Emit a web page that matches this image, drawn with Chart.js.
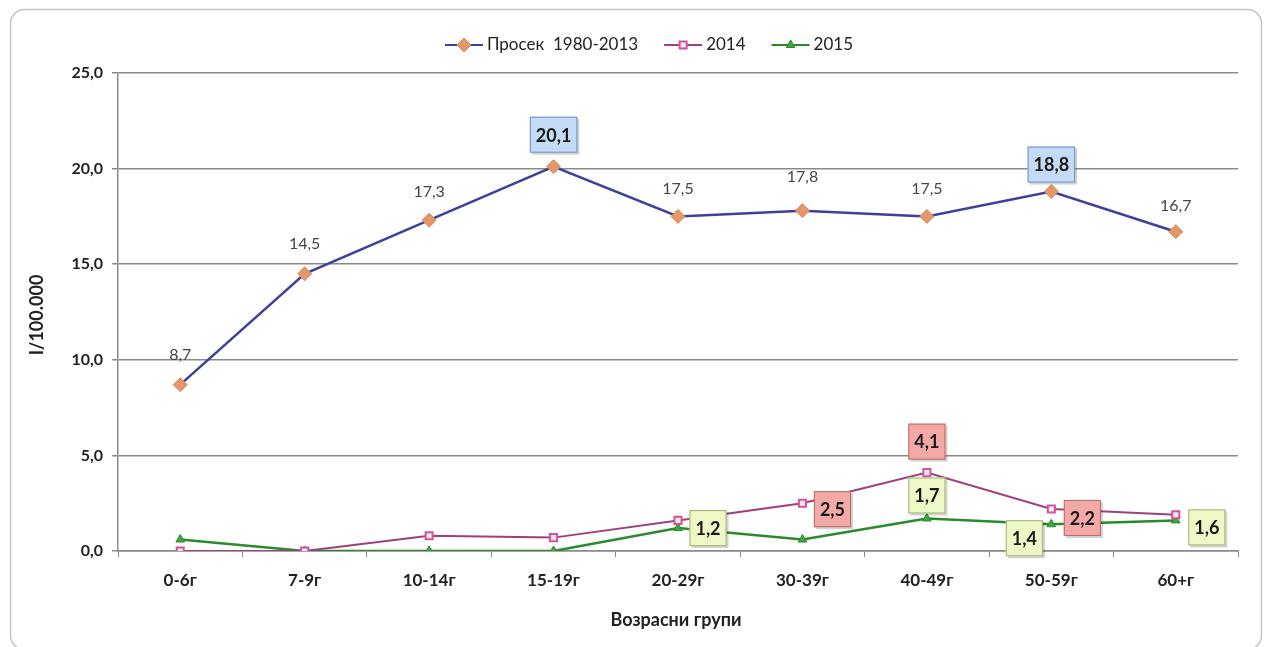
<!DOCTYPE html>
<html>
<head>
<meta charset="utf-8">
<script src="https://cdn.jsdelivr.net/npm/chart.js@4.4.1/dist/chart.umd.min.js"></script>
<style>
  body { margin: 0; background: #fff; }
  #wrap { position: relative; width: 1268px; height: 647px; }
</style>
</head>
<body>
<div id="wrap"><canvas id="chart" width="1268" height="647"></canvas></div>
<script>
const ageGroups = ["0-6г", "7-9г", "10-14г", "15-19г", "20-29г", "30-39г", "40-49г", "50-59г", "60+г"];
const avg19802013 = [8.7, 14.5, 17.3, 20.1, 17.5, 17.8, 17.5, 18.8, 16.7];
const year2014 = [0, 0, 0.8, 0.7, 1.6, 2.5, 4.1, 2.2, 1.9];
const year2015 = [0.6, 0, 0, 0, 1.2, 0.6, 1.7, 1.4, 1.6];
const seriesNames = ["Просек  1980-2013", "2014", "2015"];

const FONT = "Lato, 'Open Sans', sans-serif";
const fmt = (v) => v.toFixed(1).replace(".", ",");

// which point gets a label, and how: [dataset, index, style, dx, dy]
const labelSpots = [
  [0, 0, "plain", 0, -30], [0, 1, "plain", 0, -30], [0, 2, "plain", 0, -28],
  [0, 3, "blue", 0, -32], [0, 4, "plain", 0, -28], [0, 5, "plain", 0, -34],
  [0, 6, "plain", 0, -28], [0, 7, "blue", 0, -27], [0, 8, "plain", 0, -26],
  [1, 5, "pink", 30, 6], [1, 6, "pink", 0, -31], [1, 7, "pink", 31, 9],
  [2, 4, "green", 30, 0], [2, 6, "green", 0, -23], [2, 7, "green", -27, 14], [2, 8, "green", 31, 7],
];

const boxStyles = {
  blue: { fill: "#c4dbf6", stroke: "#6f8fc4" },
  pink: { fill: "#f3aaa6", stroke: "#b86a6a" },
  green: { fill: "#eef7c6", stroke: "#9db274" },
};

const decor = {
  id: "decor",
  beforeDraw(chart) {
    const c = chart.ctx;
    c.save();
    c.strokeStyle = "#c4c4c4";
    c.lineWidth = 1.5;
    c.beginPath();
    c.roundRect(10.5, 9.5, 1251, 640, 14);
    c.stroke();
    c.restore();
  },
  afterDraw(chart) {
    const c = chart.ctx;
    const area = chart.chartArea;
    c.save();
    // axis titles
    c.fillStyle = "#222";
    c.font = "bold 18px " + FONT;
    c.textAlign = "center";
    c.textBaseline = "middle";
    c.fillText("Возрасни групи", (area.left + area.right) / 2 - 2, 620);
    c.translate(37, 315);
    c.rotate(-Math.PI / 2);
    c.fillText("I/100.000", 0, 0);
    c.restore();

    // legend, centred above the plot
    c.save();
    c.font = "17px " + FONT;
    c.textBaseline = "middle";
    const y = 45;
    const gap = 26, seg = 38, pad = 4;
    let total = 0;
    seriesNames.forEach((n) => (total += seg + pad + c.measureText(n).width));
    total += gap * (seriesNames.length - 1);
    let x = 649 - total / 2;
    chart.data.datasets.forEach((ds, i) => {
      c.strokeStyle = ds.borderColor;
      c.lineWidth = 2;
      c.beginPath();
      c.moveTo(x, y);
      c.lineTo(x + seg, y);
      c.stroke();
      drawMarker(c, ds, x + seg / 2, y);
      c.fillStyle = "#222";
      c.fillText(seriesNames[i], x + seg + pad, y);
      x += seg + pad + c.measureText(seriesNames[i]).width + gap;
    });
    c.restore();
  },
  afterDatasetsDraw(chart) {
    const c = chart.ctx;
    c.save();
    c.textAlign = "center";
    c.textBaseline = "middle";
    labelSpots.forEach(([d, i, style, dx, dy]) => {
      const pt = chart.getDatasetMeta(d).data[i];
      const v = chart.data.datasets[d].data[i];
      const cx = pt.x + dx, cy = pt.y + dy;
      const txt = fmt(v);
      if (style === "plain") {
        c.font = "16px " + FONT;
        c.fillStyle = "#444";
        c.fillText(txt, cx, cy);
        return;
      }
      c.font = "bold 18px " + FONT;
      const w = c.measureText(txt).width + 12;
      const h = 36;
      const b = boxStyles[style];
      c.fillStyle = "rgba(0,0,0,0.18)";
      c.fillRect(cx - w / 2 + 2, cy - h / 2 + 2, w, h);
      c.fillStyle = b.fill;
      c.fillRect(cx - w / 2, cy - h / 2, w, h);
      c.strokeStyle = b.stroke;
      c.lineWidth = 1;
      c.strokeRect(cx - w / 2 + 0.5, cy - h / 2 + 0.5, w - 1, h - 1);
      c.fillStyle = "#1a1a1a";
      c.fillText(txt, cx, cy + 1);
    });
    c.restore();
  },
};

function drawMarker(c, ds, x, y) {
  c.save();
  c.fillStyle = ds.pointBackgroundColor;
  c.strokeStyle = ds.pointBorderColor;
  c.lineWidth = ds.pointBorderWidth;
  Chart.helpers.drawPoint(c, { pointStyle: ds.pointStyle, radius: ds.pointRadius, borderWidth: ds.pointBorderWidth }, x, y);
  c.restore();
}

const ctx = document.getElementById("chart").getContext("2d");

new Chart(ctx, {
  type: "line",
  data: {
    labels: ageGroups,
    datasets: [
      {
        label: seriesNames[0],
        data: avg19802013,
        borderColor: "#3f3f9c",
        borderWidth: 2.5,
        pointStyle: "rectRot",
        pointRadius: 7,
        pointBackgroundColor: "#e3976b",
        pointBorderColor: "#d5885c",
        pointBorderWidth: 1,
        tension: 0,
      },
      {
        label: seriesNames[1],
        data: year2014,
        borderColor: "#a03f7c",
        borderWidth: 2,
        pointStyle: "rect",
        pointRadius: 5,
        pointBackgroundColor: "#f6e6ee",
        pointBorderColor: "#d0559a",
        pointBorderWidth: 2,
        tension: 0,
      },
      {
        label: seriesNames[2],
        data: year2015,
        borderColor: "#2b8a2b",
        borderWidth: 2.5,
        pointStyle: "triangle",
        pointRadius: 5,
        pointBackgroundColor: "#3ea83e",
        pointBorderColor: "#2b8a2b",
        pointBorderWidth: 1,
        tension: 0,
      },
    ],
  },
  options: {
    responsive: false,
    animation: false,
    devicePixelRatio: 1,
    layout: { padding: { top: 73, right: 30, left: 0, bottom: 0 } },
    plugins: {
      legend: { display: false },
      tooltip: { enabled: false },
    },
    scales: {
      x: {
        offset: true,
        grid: {
          offset: true,
          drawOnChartArea: false,
          drawTicks: true,
          tickLength: 6,
          color: "#8a8a8a",
        },
        border: { color: "#8a8a8a", width: 1.5 },
        ticks: {
          color: "#222",
          padding: 13,
          font: { family: FONT, size: 17, weight: "bold" },
          maxRotation: 0,
        },
        afterFit(scale) {
          scale.height = 96;
        },
      },
      y: {
        min: 0,
        max: 25,
        grid: {
          color: "#8a8a8a",
          lineWidth: 1.5,
          tickLength: 6,
        },
        border: { color: "#8a8a8a", width: 1.5 },
        ticks: {
          stepSize: 5,
          color: "#222",
          padding: 9,
          font: { family: FONT, size: 16, weight: "bold" },
          callback: (v) => fmt(v),
        },
        afterFit(scale) {
          scale.width = 118;
        },
      },
    },
  },
  plugins: [decor],
});
</script>
</body>
</html>
